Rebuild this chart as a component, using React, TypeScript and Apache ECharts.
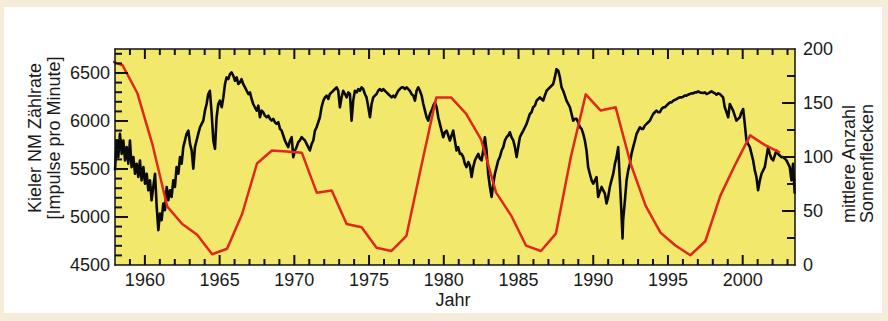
import React, { useEffect, useRef } from "react";
import * as echarts from "echarts";

// Yearly mean sunspot numbers, plotted at mid-year (right axis)
const sunspotYears = [
  1957.5, 1958.5, 1959.5, 1960.5, 1961.5, 1962.5, 1963.5, 1964.5, 1965.5, 1966.5,
  1967.5, 1968.5, 1969.5, 1970.5, 1971.5, 1972.5, 1973.5, 1974.5, 1975.5, 1976.5,
  1977.5, 1978.5, 1979.5, 1980.5, 1981.5, 1982.5, 1983.5, 1984.5, 1985.5, 1986.5,
  1987.5, 1988.5, 1989.5, 1990.5, 1991.5, 1992.5, 1993.5, 1994.5, 1995.5, 1996.5,
  1997.5, 1998.5, 1999.5, 2000.5, 2001.5, 2002.5,
];
const sunspotValues = [
  190, 185, 159, 112, 54, 38, 28, 10, 15, 47,
  94, 106, 105, 104, 67, 69, 38, 35, 16, 13,
  27, 92, 155, 155, 140, 116, 67, 46, 18, 13,
  29, 100, 158, 143, 146, 94, 55, 30, 18, 9,
  22, 64, 93, 120, 111, 104,
];

// Kiel neutron monitor count rate [year, impulses per minute] (left axis)
const nmRate1958to1981: [number, number][] = [
  [1958.00, 5486], [1958.11, 5797], [1958.22, 5624], [1958.33, 5866], [1958.45, 5658],
  [1958.56, 5797], [1958.67, 5589], [1958.78, 5728], [1958.89, 5555], [1959.00, 5797],
  [1959.11, 5520], [1959.23, 5624], [1959.34, 5451], [1959.45, 5555], [1959.56, 5416],
  [1959.67, 5589], [1959.78, 5382], [1959.90, 5520], [1960.01, 5347], [1960.12, 5451],
  [1960.23, 5278], [1960.34, 5382], [1960.45, 5174], [1960.56, 5313], [1960.68, 5451],
  [1960.79, 5105], [1960.90, 4863], [1961.01, 5036], [1961.12, 4967], [1961.23, 5140],
  [1961.34, 5071], [1961.46, 5313], [1961.57, 5174], [1961.68, 5278], [1961.79, 5209],
  [1961.90, 5382], [1962.01, 5313], [1962.12, 5520], [1962.24, 5451], [1962.35, 5624],
  [1962.46, 5555], [1962.57, 5728], [1962.68, 5797], [1962.79, 5866], [1962.91, 5900],
  [1963.02, 5762], [1963.13, 5693], [1963.24, 5503], [1963.35, 5728], [1963.46, 5797],
  [1963.57, 5866], [1963.69, 5935], [1963.80, 5970], [1963.91, 6004], [1964.02, 6108],
  [1964.13, 6177], [1964.24, 6281], [1964.35, 6315], [1964.47, 6073], [1964.58, 5797],
  [1964.69, 5710], [1964.80, 6039], [1964.91, 6177], [1965.02, 6212], [1965.14, 6143],
  [1965.25, 6246], [1965.36, 6385], [1965.47, 6454], [1965.58, 6436], [1965.69, 6488],
  [1965.80, 6506], [1965.92, 6471], [1966.03, 6419], [1966.14, 6454], [1966.25, 6385],
  [1966.36, 6402], [1966.47, 6436], [1966.58, 6385], [1966.70, 6350], [1966.81, 6315],
  [1966.92, 6281], [1967.03, 6298], [1967.14, 6229], [1967.25, 6177], [1967.36, 6143],
  [1967.48, 6108], [1967.59, 6160], [1967.70, 6039], [1967.81, 6108], [1967.92, 6091],
  [1968.03, 6056], [1968.15, 6039], [1968.26, 6056], [1968.37, 6022], [1968.48, 6004],
  [1968.59, 6022], [1968.70, 5987], [1968.81, 5970], [1968.93, 5987], [1969.04, 5918],
  [1969.15, 5900], [1969.26, 5849], [1969.37, 5797], [1969.48, 5762], [1969.59, 5728],
  [1969.71, 5797], [1969.82, 5831], [1969.93, 5624], [1970.04, 5693], [1970.15, 5728],
  [1970.26, 5779], [1970.37, 5797], [1970.49, 5831], [1970.60, 5814], [1970.71, 5797],
  [1970.82, 5762], [1970.93, 5728], [1971.04, 5693], [1971.16, 5762], [1971.27, 5797],
  [1971.38, 5900], [1971.49, 5935], [1971.60, 5987], [1971.71, 6039], [1971.82, 6143],
  [1971.94, 6212], [1972.05, 6246], [1972.16, 6264], [1972.27, 6229], [1972.38, 6281],
  [1972.49, 6298], [1972.60, 6315], [1972.72, 6333], [1972.83, 6350], [1972.94, 6315],
  [1973.05, 6143], [1973.16, 6246], [1973.27, 6315], [1973.39, 6281], [1973.50, 6246],
  [1973.61, 6298], [1973.72, 6281], [1973.83, 6004], [1973.94, 6212], [1974.05, 6315],
  [1974.17, 6298], [1974.28, 6333], [1974.39, 6315], [1974.50, 6350], [1974.61, 6333],
  [1974.72, 6281], [1974.83, 6246], [1974.95, 6143], [1975.06, 6039], [1975.17, 6177],
  [1975.28, 6246], [1975.39, 6264], [1975.50, 6281], [1975.61, 6315], [1975.73, 6333],
  [1975.84, 6315], [1975.95, 6333], [1976.06, 6315], [1976.17, 6298], [1976.28, 6281],
  [1976.39, 6264], [1976.51, 6246], [1976.62, 6264], [1976.73, 6246], [1976.84, 6281],
  [1976.95, 6315], [1977.06, 6333], [1977.18, 6350], [1977.29, 6350], [1977.40, 6333],
  [1977.51, 6350], [1977.62, 6333], [1977.73, 6315], [1977.84, 6281], [1977.96, 6264],
  [1978.07, 6212], [1978.18, 6315], [1978.29, 6350], [1978.40, 6315], [1978.52, 6264],
  [1978.63, 6177], [1978.74, 6108], [1978.85, 6039], [1978.96, 6004], [1979.07, 6073],
  [1979.18, 6108], [1979.30, 6160], [1979.41, 6194], [1979.52, 6143], [1979.63, 6039],
  [1979.74, 5970], [1979.85, 5900], [1979.96, 5831], [1980.07, 5883], [1980.19, 5900],
  [1980.30, 5849], [1980.41, 5797], [1980.52, 5849], [1980.63, 5900], [1980.74, 5797],
  [1980.85, 5693], [1980.96, 5728], [1981.08, 5658],
];
const nmRate1981to2003: [number, number][] = [
  [1981.19, 5658], [1981.30, 5624], [1981.41, 5555], [1981.52, 5520], [1981.64, 5572],
  [1981.75, 5537], [1981.86, 5416], [1981.97, 5520], [1982.08, 5589], [1982.19, 5624],
  [1982.31, 5658], [1982.42, 5607], [1982.53, 5589], [1982.64, 5693], [1982.75, 5831],
  [1982.86, 5693], [1982.97, 5451], [1983.09, 5313], [1983.20, 5209], [1983.31, 5347],
  [1983.42, 5451], [1983.53, 5520], [1983.64, 5589], [1983.75, 5624], [1983.87, 5693],
  [1983.98, 5728], [1984.09, 5797], [1984.20, 5831], [1984.31, 5849], [1984.42, 5883],
  [1984.53, 5831], [1984.65, 5797], [1984.76, 5728], [1984.87, 5624], [1984.98, 5728],
  [1985.09, 5831], [1985.20, 5866], [1985.32, 5900], [1985.43, 5935], [1985.54, 5970],
  [1985.65, 6022], [1985.76, 6073], [1985.87, 6091], [1985.98, 6143], [1986.10, 6160],
  [1986.21, 6212], [1986.32, 6229], [1986.43, 6246], [1986.54, 6229], [1986.65, 6212],
  [1986.76, 6264], [1986.88, 6315], [1986.99, 6333], [1987.10, 6350], [1987.21, 6367],
  [1987.32, 6385], [1987.43, 6454], [1987.54, 6540], [1987.66, 6523], [1987.77, 6454],
  [1987.88, 6350], [1987.99, 6315], [1988.10, 6264], [1988.21, 6212], [1988.33, 6177],
  [1988.44, 6143], [1988.55, 6073], [1988.66, 6004], [1988.77, 6022], [1988.88, 6022],
  [1988.99, 5987], [1989.11, 5935], [1989.22, 5918], [1989.33, 5866], [1989.44, 5797],
  [1989.55, 5693], [1989.66, 5520], [1989.77, 5451], [1989.89, 5382], [1990.00, 5347],
  [1990.11, 5382], [1990.22, 5416], [1990.33, 5209], [1990.44, 5261], [1990.56, 5313],
  [1990.67, 5278], [1990.78, 5243], [1990.89, 5140], [1991.00, 5209], [1991.11, 5313],
  [1991.22, 5382], [1991.34, 5451], [1991.45, 5555], [1991.56, 5624], [1991.67, 5728],
  [1991.78, 5382], [1991.89, 5036], [1991.96, 4777], [1992.00, 4967], [1992.12, 5174],
  [1992.23, 5382], [1992.34, 5486], [1992.45, 5555], [1992.56, 5658], [1992.67, 5728],
  [1992.79, 5797], [1992.90, 5866], [1993.01, 5900], [1993.12, 5935], [1993.23, 5918],
  [1993.34, 5918], [1993.45, 5952], [1993.57, 5970], [1993.68, 5987], [1993.79, 6004],
  [1993.90, 6039], [1994.01, 6073], [1994.12, 6091], [1994.23, 6108], [1994.35, 6091],
  [1994.46, 6091], [1994.57, 6125], [1994.68, 6143], [1994.79, 6143], [1994.90, 6160],
  [1995.01, 6177], [1995.13, 6194], [1995.24, 6194], [1995.35, 6212], [1995.46, 6219],
  [1995.57, 6229], [1995.68, 6239], [1995.79, 6246], [1995.91, 6246], [1996.02, 6253],
  [1996.13, 6264], [1996.24, 6264], [1996.35, 6274], [1996.46, 6281], [1996.57, 6288],
  [1996.69, 6288], [1996.80, 6298], [1996.91, 6298], [1997.02, 6309], [1997.13, 6298],
  [1997.24, 6295], [1997.35, 6291], [1997.47, 6298], [1997.58, 6281], [1997.69, 6288],
  [1997.80, 6298], [1997.91, 6309], [1998.02, 6298], [1998.14, 6288], [1998.25, 6274],
  [1998.36, 6288], [1998.47, 6281], [1998.58, 6264], [1998.69, 6246], [1998.80, 6143],
  [1998.92, 6091], [1999.03, 6039], [1999.14, 6177], [1999.25, 6143], [1999.36, 6108],
  [1999.47, 6056], [1999.58, 6004], [1999.70, 6022], [1999.81, 6039], [1999.92, 6091],
  [2000.03, 6125], [2000.14, 5970], [2000.25, 5797], [2000.36, 5762], [2000.48, 5728],
  [2000.59, 5658], [2000.70, 5589], [2000.81, 5486], [2000.92, 5416], [2001.03, 5278],
  [2001.15, 5382], [2001.26, 5451], [2001.37, 5486], [2001.48, 5520], [2001.59, 5624],
  [2001.70, 5728], [2001.81, 5658], [2001.93, 5607], [2002.04, 5589], [2002.15, 5641],
  [2002.26, 5693], [2002.37, 5658], [2002.48, 5641], [2002.59, 5624], [2002.71, 5624],
  [2002.82, 5607], [2002.93, 5589], [2003.04, 5555], [2003.15, 5520], [2003.26, 5382],
  [2003.37, 5555], [2003.48, 5243],
];

// Axis ranges and tick positions
const xMin = 1958;
const xMax = 2003.5;
const leftMin = 4500;
const leftMax = 6750;
const rightMin = 0;
const rightMax = 200;

const xMajorTicks = [1960, 1965, 1970, 1975, 1980, 1985, 1990, 1995, 2000];
const xMinorTicks = [
  1959, 1961, 1962, 1963, 1964, 1966, 1967, 1968, 1969, 1971, 1972, 1973, 1974,
  1976, 1977, 1978, 1979, 1981, 1982, 1983, 1984, 1986, 1987, 1988, 1989, 1991,
  1992, 1993, 1994, 1996, 1997, 1998, 1999, 2001, 2002, 2003,
];
const leftMajorTicks = [5000, 5500, 6000, 6500];
const leftMinorTicks = [
  4600, 4700, 4800, 4900, 5100, 5200, 5300, 5400, 5600, 5700, 5800, 5900,
  6100, 6200, 6300, 6400, 6600, 6700,
];
const rightMajorTicks = [50, 100, 150];
const rightMinorTicks = [25, 75, 125, 175];

const FONT = "'Liberation Sans', Arial, Helvetica, sans-serif";
const TEXT = "#1a1a1a";

export default function App() {
  const ref = useRef<HTMLDivElement>(null);

  useEffect(() => {
    if (!ref.current) return;
    const chart = echarts.init(ref.current, null, { renderer: "svg" });

    const sunspotData = sunspotYears.map((y, i) => [y, sunspotValues[i]]);
    const nmData = [...nmRate1958to1981, ...nmRate1981to2003];

    const axisLineStyle = { color: "#111", width: 1.5 };

    const xAxisBase = {
      type: "value" as const,
      z: 6,
      min: xMin,
      max: xMax,
      splitNumber: 9,
      minInterval: 5,
      maxInterval: 5,
      splitLine: { show: false },
      axisLine: { show: true, onZero: false, lineStyle: axisLineStyle },
      axisTick: { show: false },
      minorTick: { show: false },
    };

    const baseGraphics: any[] = [
      {
        id: "paper",
        type: "rect",
        z: -10,
        silent: true,
        shape: { x: 4, y: 7, width: 878, height: 306 },
        style: { fill: "#ffffff" },
      },
      {
        id: "plotBg",
        type: "rect",
        z: -5,
        silent: true,
        shape: { x: 115, y: 49, width: 680, height: 216 },
        style: { fill: "#f2e86c" },
      },
      {
        id: "leftTitle",
        type: "text",
        x: 44,
        y: 138,
        rotation: Math.PI / 2,
        style: {
          text: "Kieler NM Zählrate\n[Impulse pro Minute]",
          fill: TEXT,
          font: `18px ${FONT}`,
          lineHeight: 19,
          align: "center",
          verticalAlign: "middle",
        },
      },
      {
        id: "rightTitle",
        type: "text",
        x: 858,
        y: 223,
        rotation: Math.PI / 2,
        style: {
          text: "mittlere Anzahl\nSonnenflecken",
          fill: TEXT,
          font: `18px ${FONT}`,
          lineHeight: 18,
          align: "left",
          verticalAlign: "middle",
        },
      },
      {
        id: "xTitle",
        type: "text",
        x: 453,
        y: 300,
        style: {
          text: "Jahr",
          fill: TEXT,
          font: `18px ${FONT}`,
          align: "center",
          verticalAlign: "middle",
        },
      },
    ];

    chart.setOption({
      animation: false,
      backgroundColor: "#f6ecda",
      textStyle: { fontFamily: FONT },
      grid: {
        left: 115,
        top: 49,
        right: 93,
        bottom: 56,
        show: false,
        containLabel: false,
        outerBoundsMode: "none",
      },
      graphic: baseGraphics,
      xAxis: [
        {
          ...xAxisBase,
          position: "bottom",
          axisLabel: {
            show: true,
            showMinLabel: false,
            showMaxLabel: false,
            margin: 6,
            color: TEXT,
            fontSize: 18,
            fontFamily: FONT,
            formatter: (v: number) => String(Math.round(v)),
          },
        },
        {
          ...xAxisBase,
          position: "top",
          axisLabel: { show: false },
        },
      ],
      yAxis: [
        {
          type: "value",
          z: 6,
          position: "left",
          min: leftMin,
          max: leftMax,
          interval: 500,
          splitLine: { show: false },
          axisLine: { show: true, onZero: false, lineStyle: axisLineStyle },
          axisTick: { show: false },
          minorTick: { show: false },
          axisLabel: {
            showMaxLabel: false,
            margin: 5,
            color: TEXT,
            fontSize: 18,
            fontFamily: FONT,
            formatter: (v: number) => String(Math.round(v)),
          },
        },
        {
          type: "value",
          z: 6,
          position: "right",
          min: rightMin,
          max: rightMax,
          interval: 50,
          splitLine: { show: false },
          axisLine: { show: true, onZero: false, lineStyle: axisLineStyle },
          axisTick: { show: false },
          minorTick: { show: false },
          axisLabel: {
            margin: 8,
            color: TEXT,
            fontSize: 18,
            fontFamily: FONT,
            formatter: (v: number) => String(Math.round(v)),
          },
        },
      ],
      series: [
        {
          name: "Kieler NM Zählrate",
          type: "line",
          xAxisIndex: 0,
          yAxisIndex: 0,
          data: nmData,
          showSymbol: false,
          symbol: "none",
          clip: true,
          z: 2,
          lineStyle: { color: "#0a0a0a", width: 2.6, join: "round" },
        },
        {
          name: "Sonnenflecken",
          type: "line",
          xAxisIndex: 0,
          yAxisIndex: 1,
          data: sunspotData,
          showSymbol: false,
          symbol: "none",
          clip: true,
          z: 3,
          lineStyle: { color: "#e0281c", width: 2.5, join: "round" },
        },
      ],
    });

    // Tick marks placed through the chart's own scales
    const tickStyle = { stroke: "#111111", lineWidth: 2 };
    const tickGraphics: any[] = [];
    const leftFinder = { seriesIndex: 0 };
    const rightFinder = { seriesIndex: 1 };

    const addXTick = (year: number, len: number) => {
      const b = chart.convertToPixel(leftFinder, [year, leftMin]) as number[];
      const t = chart.convertToPixel(leftFinder, [year, leftMax]) as number[];
      if (!b || !t) return;
      tickGraphics.push({
        type: "line", z: 4, silent: true,
        shape: { x1: b[0], y1: b[1], x2: b[0], y2: b[1] - len },
        style: tickStyle,
      });
      tickGraphics.push({
        type: "line", z: 4, silent: true,
        shape: { x1: t[0], y1: t[1], x2: t[0], y2: t[1] + len },
        style: tickStyle,
      });
    };
    const addLeftTick = (v: number, len: number) => {
      const p = chart.convertToPixel(leftFinder, [xMin, v]) as number[];
      if (!p) return;
      tickGraphics.push({
        type: "line", z: 4, silent: true,
        shape: { x1: p[0], y1: p[1], x2: p[0] + len, y2: p[1] },
        style: tickStyle,
      });
    };
    const addRightTick = (v: number, len: number) => {
      const p = chart.convertToPixel(rightFinder, [xMax, v]) as number[];
      if (!p) return;
      tickGraphics.push({
        type: "line", z: 4, silent: true,
        shape: { x1: p[0], y1: p[1], x2: p[0] - len, y2: p[1] },
        style: tickStyle,
      });
    };

    xMajorTicks.forEach((t) => addXTick(t, 10));
    xMinorTicks.forEach((t) => addXTick(t, 6));
    leftMajorTicks.forEach((v) => addLeftTick(v, 13));
    leftMinorTicks.forEach((v) => addLeftTick(v, 7));
    rightMajorTicks.forEach((v) => addRightTick(v, 13));
    rightMinorTicks.forEach((v) => addRightTick(v, 8));

    chart.setOption({ graphic: [...baseGraphics, ...tickGraphics] });

    return () => chart.dispose();
  }, []);

  return (
    <div
      ref={ref}
      style={{ position: "fixed", left: 0, top: 0, width: 888, height: 321 }}
    />
  );
}
